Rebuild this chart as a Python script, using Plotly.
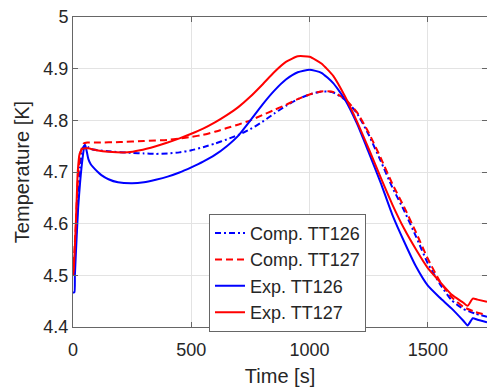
import plotly.graph_objects as go

# ---- data ----
t_comp126 = [0, 10, 20, 30, 40, 52, 65, 80, 150, 250, 300, 350, 400, 450, 500, 550, 600,
             650, 700, 750, 800, 850, 900, 950, 1000, 1050, 1100, 1150, 1200, 1250, 1300,
             1350, 1400, 1450, 1500, 1550, 1600, 1650, 1700, 1750]
v_comp126 = [4.50, 4.55, 4.64, 4.71, 4.745, 4.753, 4.748, 4.744, 4.740, 4.737, 4.736, 4.735,
             4.736, 4.738, 4.742, 4.748, 4.755, 4.763, 4.772, 4.783, 4.797, 4.813, 4.828,
             4.841, 4.850, 4.856, 4.854, 4.840, 4.814, 4.772, 4.722, 4.670, 4.625, 4.575,
             4.523, 4.484, 4.452, 4.435, 4.426, 4.420]

t_comp127 = [0, 10, 20, 30, 45, 60, 100, 200, 300, 400, 450, 500, 550, 600, 650, 700, 750,
             800, 850, 900, 950, 1000, 1050, 1100, 1150, 1200, 1250, 1300, 1350, 1400, 1450,
             1500, 1550, 1600, 1650, 1700, 1750]
v_comp127 = [4.50, 4.58, 4.68, 4.735, 4.755, 4.757, 4.757, 4.758, 4.760, 4.762, 4.765, 4.768,
             4.772, 4.778, 4.785, 4.792, 4.800, 4.810, 4.820, 4.830, 4.841, 4.850, 4.856,
             4.855, 4.841, 4.816, 4.776, 4.728, 4.677, 4.632, 4.583, 4.532, 4.489, 4.458,
             4.439, 4.429, 4.423]

t_exp126 = [0, 6, 8, 15, 22, 30, 40, 48, 52, 58, 65, 75, 84, 105, 120, 150, 190, 250, 300,
            350, 400, 450, 500, 550, 600, 650, 700, 750, 800, 850, 900, 950, 1000, 1050,
            1100, 1150, 1200, 1250, 1300, 1350, 1400, 1450, 1500, 1550, 1600, 1650, 1668,
            1690, 1710, 1750]
v_exp126 = [4.467, 4.467, 4.50, 4.57, 4.632, 4.68, 4.725, 4.750, 4.752, 4.740, 4.725, 4.715,
            4.710, 4.700, 4.694, 4.686, 4.680, 4.678, 4.680, 4.685, 4.691, 4.699, 4.709,
            4.720, 4.733, 4.750, 4.771, 4.800, 4.830, 4.857, 4.879, 4.893, 4.898, 4.892,
            4.872, 4.840, 4.794, 4.738, 4.680, 4.617, 4.565, 4.517, 4.480, 4.457, 4.436,
            4.412, 4.403, 4.417, 4.414, 4.409]

t_exp127 = [0, 3, 12, 20, 28, 40, 63, 100, 150, 232, 283, 350, 400, 450, 500, 550, 600, 650,
            700, 750, 800, 850, 900, 950, 1000, 1050, 1100, 1150, 1200, 1250, 1300, 1350,
            1400, 1450, 1500, 1550, 1600, 1650, 1668, 1690, 1710, 1750]
v_exp127 = [4.50, 4.51, 4.60, 4.70, 4.735, 4.745, 4.746, 4.742, 4.739, 4.738, 4.742, 4.750,
            4.757, 4.765, 4.774, 4.784, 4.796, 4.810, 4.826, 4.846, 4.869, 4.893, 4.913,
            4.924, 4.923, 4.910, 4.886, 4.846, 4.798, 4.745, 4.690, 4.637, 4.590, 4.550,
            4.514, 4.488, 4.463, 4.447, 4.441, 4.455, 4.453, 4.449]

series_names = ["Comp. TT126", "Comp. TT127", "Exp. TT126", "Exp. TT127"]
x_ticks = [0, 500, 1000, 1500]
y_ticks = [4.4, 4.5, 4.6, 4.7, 4.8, 4.9, 5.0]
y_tick_text = ["4.4", "4.5", "4.6", "4.7", "4.8", "4.9", "5"]

FONT = "Liberation Sans, Arial, Helvetica, sans-serif"
TXT = "#262626"
AX = "#666666"

fig = go.Figure()
styles = [
    (t_comp126, v_comp126, "#0000ff", "6px,3px,2px,3px"),
    (t_comp127, v_comp127, "#ff0000", "7px,4px"),
    (t_exp126, v_exp126, "#0000ff", "solid"),
    (t_exp127, v_exp127, "#ff0000", "solid"),
]
for name, (t, v, c, d) in zip(series_names, styles):
    fig.add_trace(go.Scatter(x=t, y=v, mode="lines", name=name,
                             line=dict(color=c, width=2, dash=d, shape="spline", smoothing=0.5)))

axis_common = dict(
    showline=True, linecolor=AX, linewidth=1, mirror="ticks",
    ticks="inside", ticklen=5, tickcolor=AX,
    showgrid=True, gridcolor="#e3e3e3", gridwidth=1, zeroline=False,
    tickfont=dict(family=FONT, size=18, color=TXT),
)
fig.update_xaxes(range=[0, 1750], tickvals=x_ticks, ticklabelstandoff=6,
                 title=dict(text="Time [s]", font=dict(family=FONT, size=20, color=TXT), standoff=10),
                 **axis_common)
fig.update_yaxes(range=[4.4, 5.0], tickvals=y_ticks, ticktext=y_tick_text,
                 title=dict(text="Temperature [K]", font=dict(family=FONT, size=20, color=TXT), standoff=8),
                 **axis_common)

fig.update_layout(
    width=487, height=389,
    margin=dict(l=73, r=0, t=17, b=62),
    paper_bgcolor="white", plot_bgcolor="white",
    font=dict(family=FONT, color=TXT),
    legend=dict(x=0.3285, y=0.365, xanchor="left", yanchor="top",
                bgcolor="white", bordercolor=AX, borderwidth=1,
                font=dict(family=FONT, size=18, color=TXT),
                tracegroupgap=0, itemwidth=30),
    showlegend=True,
)

fig.write_html("out.html")
